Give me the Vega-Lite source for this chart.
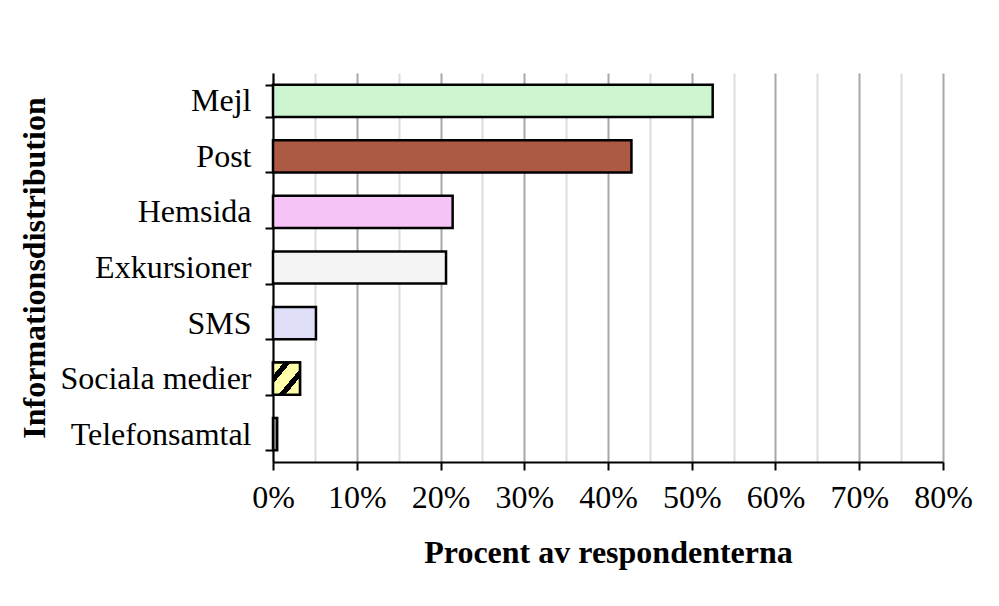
{
  "$schema": "https://vega.github.io/schema/vega-lite/v6.json",
  "width": 670,
  "height": 389,
  "autosize": "none",
  "padding": {"left": 273, "top": 73, "right": 56, "bottom": 144},
  "background": "#ffffff",
  "config": {
    "view": {"stroke": null},
    "font": "Liberation Serif",
    "axis": {
      "labelFont": "Liberation Serif",
      "titleFont": "Liberation Serif",
      "labelFontSize": 32,
      "titleFontSize": 32,
      "labelColor": "#000000",
      "titleColor": "#000000",
      "titleFontWeight": "bold",
      "domainColor": "#000000",
      "domainWidth": 2,
      "tickColor": "#000000",
      "tickWidth": 2,
      "tickSize": 8,
      "labelLimit": 400,
      "titleLimit": 800
    }
  },
  "data": {
    "values": [
      {"kanal": "Mejl", "andel": 0.525},
      {"kanal": "Post", "andel": 0.428},
      {"kanal": "Hemsida", "andel": 0.2145},
      {"kanal": "Exkursioner", "andel": 0.2066},
      {"kanal": "SMS", "andel": 0.0513},
      {"kanal": "Sociala medier", "andel": 0.0322},
      {"kanal": "Telefonsamtal", "andel": 0.005}
    ]
  },
  "layer": [
    {
      "mark": {"type": "bar", "stroke": "#000000", "strokeWidth": 2.5},
      "encoding": {
        "y": {
          "field": "kanal",
          "type": "nominal",
          "sort": null,
          "scale": {"paddingInner": 0.42, "paddingOuter": 0.21},
          "axis": {
            "title": "Informationsdistribution",
            "tickBand": "extent",
            "labelPadding": 14,
            "titlePadding": 22,
            "grid": false
          }
        },
        "x": {
          "field": "andel",
          "type": "quantitative",
          "scale": {"domain": [0, 0.8], "nice": false},
          "axis": {
            "title": "Procent av respondenterna",
            "values": [0, 0.05, 0.1, 0.15, 0.2, 0.25, 0.3, 0.35, 0.4, 0.45, 0.5, 0.55, 0.6, 0.65, 0.7, 0.75, 0.8],
            "format": ".0%",
            "labelExpr": "round(datum.value*100) % 10 == 0 ? datum.label : ''",
            "tickOpacity": {"condition": {"test": "round(datum.value*100) % 10 == 0", "value": 1}, "value": 0},
            "grid": true,
            "gridColor": {"condition": {"test": "round(datum.value*100) % 10 == 0", "value": "#a8a8a8"}, "value": "#dcdcdc"},
            "gridWidth": 2,
            "labelPadding": 12,
            "titlePadding": 24,
            "labelFlush": false
          }
        },
        "color": {
          "field": "kanal",
          "type": "nominal",
          "legend": null,
          "scale": {
            "domain": ["Mejl", "Post", "Hemsida", "Exkursioner", "SMS", "Sociala medier", "Telefonsamtal"],
            "range": ["#cdf5d0", "#ad5a44", "#f6c3f6", "#f4f4f4", "#dedef8", "#ffffaa", "#888888"]
          }
        }
      }
    },
    {
      "transform": [{"filter": "datum.kanal == 'Sociala medier'"}],
      "mark": {
        "type": "bar",
        "stroke": "#000000",
        "strokeWidth": 2.5,
        "fill": {
          "gradient": "linear",
          "x1": 0, "y1": 0, "x2": 1, "y2": 1,
          "stops": [
            {"offset": 0, "color": "#ffffaa"},
            {"offset": 0.2, "color": "#ffffaa"},
            {"offset": 0.2, "color": "#000000"},
            {"offset": 0.33, "color": "#000000"},
            {"offset": 0.33, "color": "#ffffaa"},
            {"offset": 0.6, "color": "#ffffaa"},
            {"offset": 0.6, "color": "#000000"},
            {"offset": 0.73, "color": "#000000"},
            {"offset": 0.73, "color": "#ffffaa"},
            {"offset": 1, "color": "#ffffaa"}
          ]
        }
      },
      "encoding": {
        "y": {"field": "kanal", "type": "nominal", "sort": null},
        "x": {"field": "andel", "type": "quantitative"}
      }
    }
  ]
}
